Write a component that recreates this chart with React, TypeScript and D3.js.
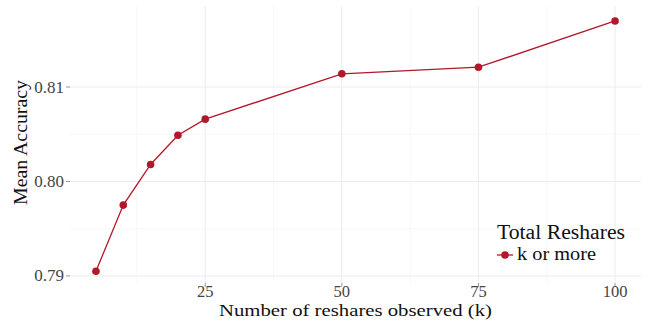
import React from "react";
import * as d3 from "d3";

const ks = [5, 10, 15, 20, 25, 50, 75, 100];
const accuracy = [0.7905, 0.7975, 0.8018, 0.8049, 0.8066, 0.8114, 0.8121, 0.8170];
const xTicks = [25, 50, 75, 100];
const yTicks = [0.79, 0.8, 0.81];
const xMinor = [12.5, 37.5, 62.5, 87.5];
const yMinor = [0.795, 0.805];
const seriesLabel = "k or more";
const legendTitle = "Total Reshares";
const xTitle = "Number of reshares observed (k)";
const yTitle = "Mean Accuracy";

const W = 651, H = 322;
const left = 70, right = 641, top = 6, bottom = 283;
const font = "'Liberation Serif', 'DejaVu Serif', serif";
const red = "#B2182B";

export default function App() {
  const xs = d3.scaleLinear().domain([0.25, 104.75]).range([left, right]);
  const ys = d3.scaleLinear().domain([0.78925, 0.81837]).range([bottom, top + 2]);
  const line = d3.line<number>().x((_, i) => xs(ks[i])).y((d) => ys(d));
  return (
    <svg width={W} height={H} style={{ position: "absolute", left: 0, top: 0, background: "#fff" }}>
      {xMinor.map((t) => (
        <line key={"xm" + t} x1={xs(t)} x2={xs(t)} y1={top} y2={bottom} stroke="#f5f5f5" strokeWidth={0.8} />
      ))}
      {yMinor.map((t) => (
        <line key={"ym" + t} x1={left} x2={right} y1={ys(t)} y2={ys(t)} stroke="#f5f5f5" strokeWidth={0.8} />
      ))}
      {xTicks.map((t) => (
        <line key={"xg" + t} x1={xs(t)} x2={xs(t)} y1={top} y2={bottom} stroke="#ececec" strokeWidth={1} />
      ))}
      {yTicks.map((t) => (
        <line key={"yg" + t} x1={left} x2={right} y1={ys(t)} y2={ys(t)} stroke="#ececec" strokeWidth={1} />
      ))}
      {xTicks.map((t) => (
        <g key={"xt" + t}>
          <line x1={xs(t)} x2={xs(t)} y1={bottom} y2={bottom + 4} stroke="#999" />
          <text x={xs(t)} y={bottom + 14} textAnchor="middle" fontFamily={font} fontSize={16.5} fill="#444">{t}</text>
        </g>
      ))}
      {yTicks.map((t) => (
        <g key={"yt" + t}>
          <line x1={left - 4} x2={left} y1={ys(t)} y2={ys(t)} stroke="#999" />
          <text x={left - 6} y={ys(t) + 5.5} textAnchor="end" fontFamily={font} fontSize={17} fill="#444">{t.toFixed(2)}</text>
        </g>
      ))}
      <path d={line(accuracy) || ""} fill="none" stroke={red} strokeWidth={1.3} />
      {accuracy.map((v, i) => (
        <circle key={i} cx={xs(ks[i])} cy={ys(v)} r={3.8} fill={red} />
      ))}
      <text x={355.5} y={316} textAnchor="middle" fontFamily={font} fontSize={17} fill="#111" textLength={273} lengthAdjust="spacingAndGlyphs">{xTitle}</text>
      <text transform="translate(27,142.5) rotate(-90)" textAnchor="middle" fontFamily={font} fontSize={18} fill="#111" textLength={125} lengthAdjust="spacingAndGlyphs">{yTitle}</text>
      <text x={497} y={239} fontFamily={font} fontSize={20} fill="#111" textLength={128} lengthAdjust="spacingAndGlyphs">{legendTitle}</text>
      <line x1={497} x2={513} y1={255} y2={255} stroke={red} strokeWidth={1.3} />
      <circle cx={505} cy={255} r={3.8} fill={red} />
      <text x={517} y={260} fontFamily={font} fontSize={19} fill="#111" textLength={79} lengthAdjust="spacingAndGlyphs">{seriesLabel}</text>
    </svg>
  );
}
